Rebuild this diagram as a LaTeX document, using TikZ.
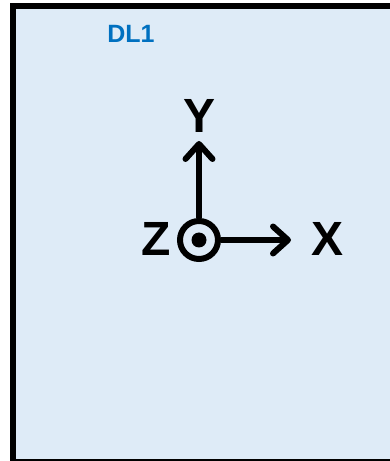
\documentclass[tikz,border=0pt]{standalone}
\usepackage{fontspec}
\setmainfont{Liberation Sans}
\usetikzlibrary{arrows.meta}
\definecolor{panelfill}{RGB}{222,235,247}
\definecolor{titleblue}{RGB}{0,112,192}
\tikzset{
  axis/.style={line width=6pt, -{Straight Barb[length=15pt,width=27pt,line cap=round,line join=round]}},
  axlabel/.style={font=\fontsize{48}{48}\selectfont\bfseries, inner sep=0pt, anchor=center},
}
\begin{document}
\begin{tikzpicture}[x=1pt,y=1pt]
\useasboundingbox (0,0) rectangle (390,461);
\clip (0,0) rectangle (390,461);
\draw[line width=6pt, fill=panelfill] (13,455) rectangle (420,-1);
\node[titleblue, font=\fontsize{25}{25}\selectfont\bfseries, inner sep=0pt] (title) at (131,427) {DL1};
\node[circle, draw, line width=6pt, minimum size=38pt, inner sep=0pt] (z) at (199,221) {};
\node[circle, fill, minimum size=15pt, inner sep=0pt] (dot) at (z.center) {};
\coordinate (ytip) at (199,320);
\coordinate (xtip) at (291,221);
\draw[axis] (z.north) -- (ytip);
\draw[axis] (z.east) -- (xtip);
\node[axlabel] (ylab) at (200,345) {Y};
\node[axlabel] (zlab) at (156.5,222) {Z};
\node[axlabel] (xlab) at (328,222) {X};
\end{tikzpicture}
\end{document}
